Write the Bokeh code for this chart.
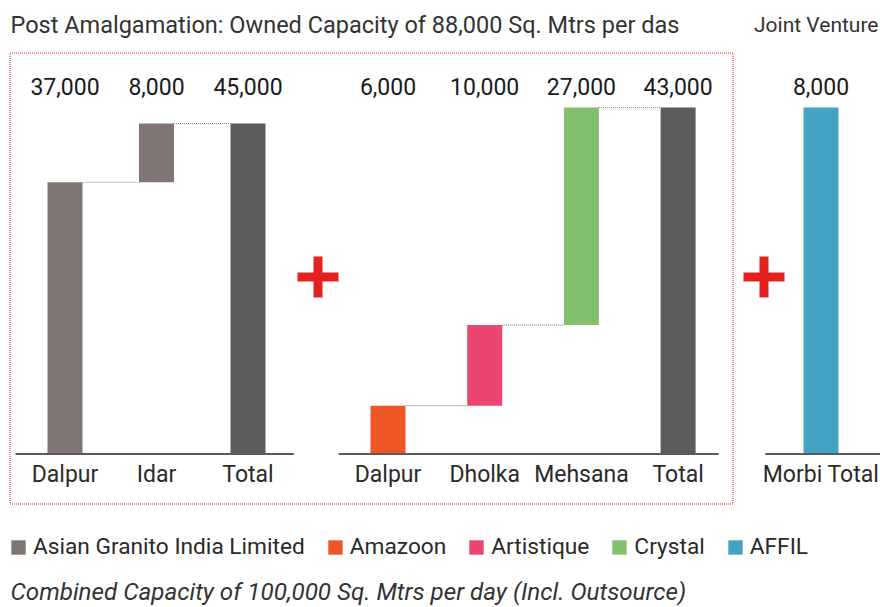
from bokeh.plotting import figure
from bokeh.models import Range1d, ColumnDataSource, Legend, LegendItem
from bokeh.core.properties import value
from bokeh.embed import file_html
from bokeh.resources import INLINE

# ---------------- data ----------------
title_left = "Post Amalgamation: Owned Capacity of 88,000 Sq. Mtrs per das"
title_right = "Joint Venture"
footer = "Combined Capacity of 100,000 Sq. Mtrs per day (Incl. Outsource)"

p1_categories = ["Dalpur", "Idar", "Total"]
p1_values = [37000, 8000]
p1_colors = ["#7f7673", "#7f7673"]

p2_categories = ["Dalpur", "Dholka", "Mehsana", "Total"]
p2_values = [6000, 10000, 27000]
p2_colors = ["#ee5627", "#ea4670", "#82c070"]

p3_categories = ["Morbi Total"]
p3_values = [8000]
p3_colors = ["#44a3c4"]

total_color = "#5c5c5c"

legend_labels = ["Asian Granito India Limited", "Amazoon", "Artistique", "Crystal", "AFFIL"]
legend_colors = ["#7f7673", "#ee5627", "#ea4670", "#82c070", "#44a3c4"]

# ---------------- layout ----------------
W, H = 880, 607
FONT = "Roboto"

p = figure(width=W, height=H, output_backend="svg", toolbar_location=None,
           x_range=Range1d(0, W), y_range=Range1d(H, 0), min_border=0,
           outline_line_color=None, background_fill_color="white",
           border_fill_color="white")
p.axis.visible = False
p.grid.visible = False

BASE_PX = 453.5  # baseline pixel (from top)


def panel(name, cats, vals, colors, first_px, step_px, top_px, show_total, line_l, line_r):
    n = len(cats)
    total = sum(vals)
    k = (BASE_PX - top_px) / total
    ystart = -(H - BASE_PX) / k
    p.extra_y_ranges[name] = Range1d(ystart, ystart + H / k)
    xstart = -first_px / step_px
    p.extra_x_ranges[name] = Range1d(xstart, xstart + W / step_px)
    bw = 35.0 / step_px

    xs, bottoms, tops, cols, labels = [], [], [], [], []
    cum = 0
    for i, v in enumerate(vals):
        xs.append(i)
        bottoms.append(cum)
        tops.append(cum + v)
        cols.append(colors[i])
        labels.append(f"{v:,}")
        cum += v
    if show_total:
        xs.append(len(vals))
        bottoms.append(0)
        tops.append(total)
        cols.append(total_color)
        labels.append(f"{total:,}")

    src = ColumnDataSource(dict(x=xs, bottom=bottoms, top=tops, color=cols, label=labels,
                                cat=cats))
    r = p.vbar(x="x", bottom="bottom", top="top", width=bw, fill_color="color",
               line_color=None, source=src, x_range_name=name, y_range_name=name)

    cx0, cx1, cy = [], [], []
    for i in range(len(xs) - 1):
        cx0.append(xs[i] + bw / 2)
        cx1.append(xs[i + 1] - bw / 2)
        cy.append(tops[i])
    if cx0:
        p.segment(x0=cx0, y0=cy, x1=cx1, y1=cy, line_color="#8a8a8a", line_width=1.2,
                  line_dash="1 1", x_range_name=name, y_range_name=name)

    p.segment(x0=[line_l], y0=[0], x1=[n - 1 + line_r], y1=[0], line_color="#5a5a5a",
              line_width=2, x_range_name=name, y_range_name=name)

    p.text(x="x", y=86, text="label", source=src, x_range_name=name,
           text_font=value(FONT), text_font_size="23px", text_color="#1a1a1a",
           text_align="center", text_baseline="middle")
    p.text(x="x", y=474, text="cat", source=src, x_range_name=name,
           text_font=value(FONT), text_font_size="23px", text_color="#2a2a2a",
           text_align="center", text_baseline="middle")
    return r, src


r1, s1 = panel("p1", p1_categories, p1_values, p1_colors, 64.5, 91.5, 123, True, -0.54, 0.5)
r2, s2 = panel("p2", p2_categories, p2_values, p2_colors, 387.5, 96.7, 107, True, -0.51, 0.42)
r3, s3 = panel("p3", p3_categories, p3_values, p3_colors, 820.5, 96.0, 107, False, -0.58, 0.62)

# plus signs
p.scatter(x=[317.5, 763.5], y=[276.5, 276.5], marker="cross", size=41,
          line_color="#e3221f", line_width=9)

# dotted red box
p.quad(left=[9.5], right=[732.5], top=[52.5], bottom=[503.5], fill_color=None,
       line_color="#e0282a", line_width=1, line_dash="1 1")

# titles
p.text(x=[10], y=[24], text=[title_left], text_font=value(FONT), text_font_size="23.5px",
       text_color="#333333", text_align="left", text_baseline="middle")
p.text(x=[878], y=[24], text=[title_right], text_font=value(FONT), text_font_size="21px",
       text_color="#333333", text_align="right", text_baseline="middle")
p.text(x=[10], y=[591], text=[footer], text_font=value(FONT), text_font_size="24.2px",
       text_font_style="italic", text_color="#333333", text_align="left",
       text_baseline="middle")

# legend
items = [
    LegendItem(label=legend_labels[0], renderers=[r1], index=0),
    LegendItem(label=legend_labels[1], renderers=[r2], index=0),
    LegendItem(label=legend_labels[2], renderers=[r2], index=1),
    LegendItem(label=legend_labels[3], renderers=[r2], index=2),
    LegendItem(label=legend_labels[4], renderers=[r3], index=0),
]
legend = Legend(items=items, orientation="horizontal", location=(9, H - 560),
                label_text_font=FONT, label_text_font_size="22.7px",
                label_text_color="#2a2a2a", glyph_width=18, glyph_height=18,
                label_standoff=6, spacing=21, padding=0, margin=0,
                border_line_color=None, background_fill_alpha=0,
                label_height=26)
p.add_layout(legend)

open("out.html", "w").write(file_html(p, INLINE))
